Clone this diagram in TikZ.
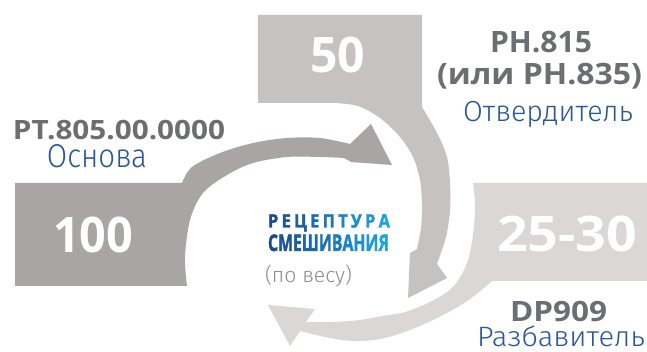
\documentclass[tikz,border=0pt]{standalone}
\usepackage{fontspec}
\usepackage{graphicx}
\setmainfont{Open Sans}
\newfontfamily\boldf{Open Sans}
\IfFontExistsTF{Open Sans Bold}{\newfontfamily\heavyf{Open Sans Bold}[FakeBold=2]}{\newfontfamily\heavyf{Open Sans}[BoldFeatures={FakeBold=2}]}
\IfFontExistsTF{Fira Sans Light}{\newfontfamily\thinf{Fira Sans Light}}{\newfontfamily\thinf{Fira Sans}}
\definecolor{aone}{HTML}{A9A5A5}
\definecolor{atwo}{HTML}{C6C2BF}
\definecolor{athree}{HTML}{DAD7D5}
\definecolor{lblgray}{HTML}{6D6E71}
\definecolor{lblblue}{HTML}{285799}
\definecolor{parengray}{HTML}{8C8C8C}
\definecolor{tdark}{HTML}{1B4A8F}
\definecolor{tlight}{HTML}{1DA3DF}
\newcommand\fitw[2]{\resizebox{#1}{\height}{#2}}
\newcommand\gl[2]{\textcolor{tdark!#1!tlight}{#2}}
\tikzset{
  bignum/.style={anchor=base, text=white, inner sep=0pt,
    font=\boldf\bfseries\fontsize{49}{49}\selectfont},
  codelbl/.style={anchor=base, text=lblgray, inner sep=0pt},
  rolelbl/.style={anchor=base, text=lblblue, inner sep=0pt},
}
\begin{document}
\begin{tikzpicture}[x=1pt,y=-1pt]
\useasboundingbox (0,0) rectangle (647,352);
\fill[white] (0,0) rectangle (647,352);

% arrow 1 (base, 100)
\fill[aone] (15,183) -- (182,183)
  -- plot[smooth,tension=0.55] coordinates {(182,183) (192,167) (220,153) (253,143) (287,138) (320,138) (350,144)}
  -- (371,124) -- (392,165) -- (351,162) -- (344,158)
  -- plot[smooth,tension=0.55] coordinates {(344,158) (320,157) (287,157) (253,163) (227,175) (203,193) (190,220) (185,257) (187,286)}
  -- (15,286) -- cycle;

% arrow 2 (hardener, 50)
\fill[atwo] (258,15) -- (422,15) -- (422,107)
  -- plot[smooth,tension=0.55] coordinates {(422,107) (437,133) (447,157) (450,183) (450,210) (446,237) (437,264)}
  -- (447,278) -- (408,298) -- (410,253) -- (417,249)
  -- plot[smooth,tension=0.55] coordinates {(417,249) (421,228) (422,205) (420,180) (413,157) (400,137) (380,118) (358,106) (335,103)}
  -- (258,103) -- cycle;

% arrow 3 (thinner, 25-30)
\fill[athree] (473,183) -- (647,183) -- (647,281) -- (492,281)
  -- plot[smooth,tension=0.55] coordinates {(492,281) (470,299) (445,314) (410,330) (380,339) (355,341) (330,338) (300,331)}
  -- (290,346) -- (268,305) -- (315,309) -- (306,322)
  -- plot[smooth,tension=0.55] coordinates {(306,322) (333,322) (360,320) (382,316) (405,312) (430,302) (453,287) (467,263) (473,235) (475,205) (473,183)}
  -- cycle;

% big numbers
\node[bignum, name=n100] at (93,253) {\fitw{80pt}{100}};
\node[bignum, name=n50] at (337.5,73) {\fitw{55pt}{50}};
\node[bignum, name=n2530] at (567,252) {\fitw{140pt}{25-30}};

% codes
\node[codelbl, name=c1, font=\boldf\bfseries\fontsize{26.6}{26.6}\selectfont] at (119,140) {\fitw{212pt}{PT.805.00.0000}};
\node[codelbl, name=c2a, font=\boldf\bfseries\fontsize{29.4}{29.4}\selectfont] at (541,53) {\fitw{102pt}{PH.815}};
\node[codelbl, name=c2b, font=\boldf\bfseries\fontsize{29.4}{29.4}\selectfont] at (539.5,85) {\fitw{205pt}{(или PH.835)}};
\node[codelbl, name=c3, font=\boldf\bfseries\fontsize{28}{28}\selectfont] at (558.5,321.5) {\fitw{97pt}{DP909}};

% roles
\node[rolelbl, name=r1, font=\thinf\fontsize{33}{33}\selectfont] at (97,168) {\fitw{100pt}{Основа}};
\node[rolelbl, name=r2, font=\thinf\fontsize{29}{29}\selectfont] at (548,121.5) {\fitw{170pt}{Отвердитель}};
\node[rolelbl, name=r3, font=\thinf\fontsize{28}{28}\selectfont] at (561,346.5) {\fitw{168pt}{Разбавитель}};

% centre title
\node[anchor=base, inner sep=0pt, name=t1, font=\heavyf\fontsize{18.5}{18.5}\selectfont] at (329,227.5)
  {\fitw{122pt}{\gl{100}{Р}\kern.2em\gl{87}{Е}\kern.2em\gl{75}{Ц}\kern.2em\gl{62}{Е}\kern.2em\gl{50}{П}\kern.2em\gl{37}{Т}\kern.2em\gl{25}{У}\kern.2em\gl{12}{Р}\kern.2em\gl{0}{А}}};
\node[anchor=base, inner sep=0pt, name=t2, font=\heavyf\fontsize{23}{23}\selectfont] at (328.5,251)
  {\fitw{121pt}{\gl{100}{С}\gl{89}{М}\gl{78}{Е}\gl{67}{Ш}\gl{56}{И}\gl{44}{В}\gl{33}{А}\gl{22}{Н}\gl{11}{И}\gl{0}{Я}}};
\node[anchor=base, inner sep=0pt, name=t3, text=parengray, font=\thinf\fontsize{21}{21}\selectfont] at (308.5,283)
  {\fitw{87pt}{(по весу)}};
\end{tikzpicture}
\end{document}
